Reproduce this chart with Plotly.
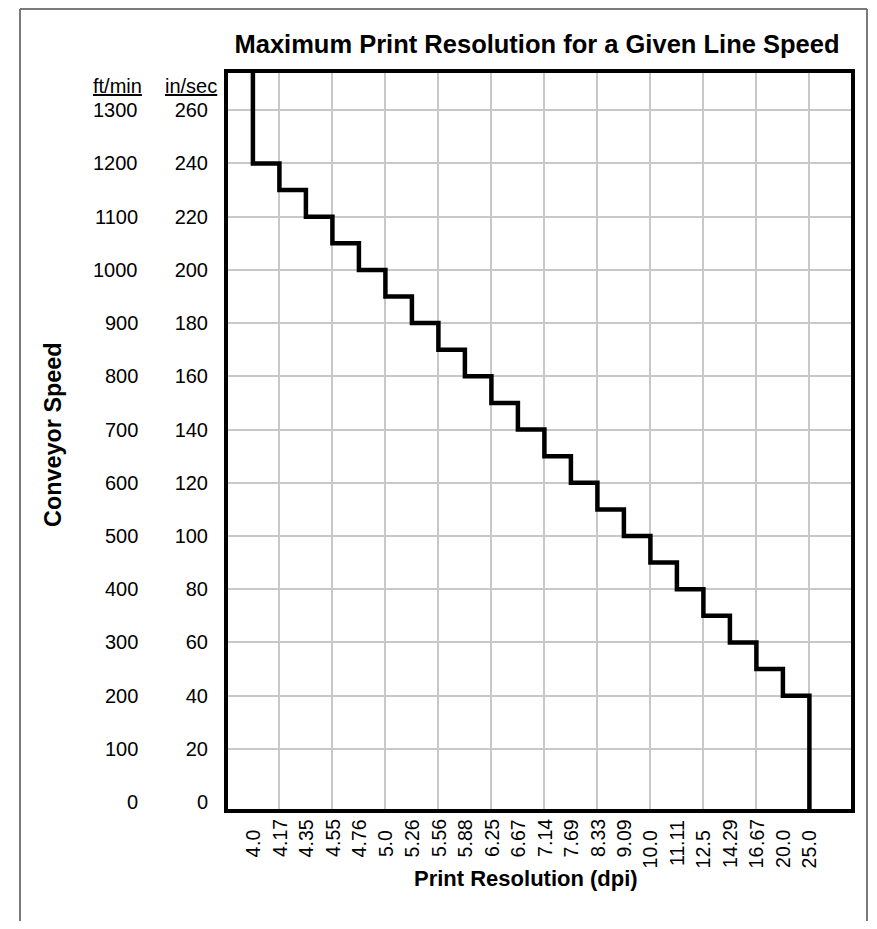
import plotly.graph_objects as go

# Print resolution categories (dpi) along the bottom axis
RES_DPI = ["4.0", "4.17", "4.35", "4.55", "4.76", "5.0", "5.26", "5.56", "5.88",
           "6.25", "6.67", "7.14", "7.69", "8.33", "9.09", "10.0", "11.11",
           "12.5", "14.29", "16.67", "20.0", "25.0"]

# Speed level (in/sec) of each step, between consecutive resolutions
STEP_IN_SEC = [240, 230, 220, 210, 200, 190, 180, 170, 160, 150, 140,
               130, 120, 110, 100, 90, 80, 70, 60, 50, 40]

IN_SEC_TICKS = [0, 20, 40, 60, 80, 100, 120, 140, 160, 180, 200, 220, 240, 260]
FT_MIN_TICKS = [0, 100, 200, 300, 400, 500, 600, 700, 800, 900, 1000, 1100, 1200, 1300]

Y_RANGE = [-2.6, 274]
X_RANGE = [-0.94, 22.57]

FONT = "Liberation Sans, Arial, sans-serif"
GRID = "#c8c8c8"

# page body has an 8px margin, so keep the figure inside the window
W, H = 869, 913
PLOT_L, PLOT_T, PLOT_W, PLOT_H = 220, 65, 623, 736


def px(x):
    """window x pixel -> paper x"""
    return (x - 8 - PLOT_L) / PLOT_W


def py(y):
    """window y pixel -> paper y"""
    return (PLOT_T + PLOT_H - (y - 8)) / PLOT_H


# build the step path from the data; both ends run off the plot edges
xs = [RES_DPI[0]]
ys = [Y_RANGE[1] + 20]
for i, v in enumerate(STEP_IN_SEC):
    xs += [RES_DPI[i], RES_DPI[i + 1]]
    ys += [v, v]
xs.append(RES_DPI[-1])
ys.append(Y_RANGE[0] - 10)

fig = go.Figure()
fig.add_trace(go.Scatter(
    x=xs, y=ys, mode="lines",
    line=dict(color="black", width=4.5),
    hoverinfo="skip", showlegend=False,
))
# empty trace so the grid-only overlay axes get drawn
fig.add_trace(go.Scatter(x=[], y=[], xaxis="x2", yaxis="y2",
                         showlegend=False, hoverinfo="skip"))

fig.update_layout(
    width=W, height=H,
    margin=dict(l=PLOT_L, r=W - PLOT_L - PLOT_W, t=PLOT_T, b=H - PLOT_T - PLOT_H),
    paper_bgcolor="white", plot_bgcolor="white",
    font=dict(family=FONT, size=20, color="black"),
    title=dict(text="<b>Maximum Print Resolution for a Given Line Speed</b>",
               xref="container", x=(537 - 8) / W, xanchor="center",
               yref="container", y=1 - (44 - 8) / H, yanchor="middle",
               font=dict(size=25.5, color="black")),
    xaxis=dict(type="category", categoryorder="array", categoryarray=RES_DPI,
               range=X_RANGE, showticklabels=False, showgrid=False, zeroline=False,
               showline=True, linewidth=4, linecolor="black", mirror=True, ticks=""),
    yaxis=dict(range=Y_RANGE, tickvals=IN_SEC_TICKS, showgrid=False, zeroline=False,
               showline=True, linewidth=4, linecolor="black", mirror=True,
               ticks="", ticklabelstandoff=12, tickfont=dict(size=20)),
    xaxis2=dict(overlaying="x", anchor="y2", range=X_RANGE,
                tickvals=list(range(1, len(RES_DPI), 2)), showticklabels=False,
                showgrid=True, gridcolor=GRID, gridwidth=2,
                zeroline=False, showline=False, ticks=""),
    yaxis2=dict(overlaying="y", anchor="x2", range=Y_RANGE,
                tickvals=IN_SEC_TICKS[1:], showticklabels=False,
                showgrid=True, gridcolor=GRID, gridwidth=2,
                zeroline=False, showline=False, ticks=""),
)

# x tick labels, rotated and lined up on the decimal point
DEC_Y = py(846)
for i, lab in enumerate(RES_DPI):
    whole, frac = lab.split(".")
    fig.add_annotation(text=whole, x=i, xref="x", y=DEC_Y, yref="paper",
                       textangle=-90, xanchor="center", yanchor="top",
                       showarrow=False, borderpad=0, borderwidth=0,
                       font=dict(size=19.5))
    fig.add_annotation(text="." + frac, x=i, xref="x", y=DEC_Y, yref="paper",
                       textangle=-90, xanchor="center", yanchor="bottom",
                       showarrow=False, borderpad=0, borderwidth=0,
                       font=dict(size=19.5))

# ft/min column
for ft, ins in zip(FT_MIN_TICKS, IN_SEC_TICKS):
    fig.add_annotation(text=str(ft), x=px(140), xref="paper",
                       y=ins, yref="y", xanchor="right", yanchor="middle",
                       showarrow=False, font=dict(size=20))

fig.add_annotation(text="<u>ft/min</u>", x=px(117), xref="paper",
                   y=py(86), yref="paper", xanchor="center", yanchor="middle",
                   showarrow=False, font=dict(size=20))
fig.add_annotation(text="<u>in/sec</u>", x=px(191), xref="paper",
                   y=py(86), yref="paper", xanchor="center", yanchor="middle",
                   showarrow=False, font=dict(size=20))

fig.add_annotation(text="<b>Conveyor Speed</b>", textangle=-90,
                   x=px(53), xref="paper", y=py(435), yref="paper",
                   xanchor="center", yanchor="middle", showarrow=False,
                   font=dict(size=23.4))
fig.add_annotation(text="<b>Print Resolution (dpi)</b>",
                   x=px(526), xref="paper", y=py(878), yref="paper",
                   xanchor="center", yanchor="middle", showarrow=False,
                   font=dict(size=22))

# gray frame around the whole picture (left, top, right edges)
FRAME = dict(color="#7a7a7a", width=2)
fig.add_shape(type="line", xref="paper", yref="paper",
              x0=px(20), x1=px(20), y0=py(960), y1=py(9), line=FRAME)
fig.add_shape(type="line", xref="paper", yref="paper",
              x0=px(20), x1=px(867), y0=py(9), y1=py(9), line=FRAME)
fig.add_shape(type="line", xref="paper", yref="paper",
              x0=px(867), x1=px(867), y0=py(9), y1=py(960), line=FRAME)

fig.write_html("out.html")
